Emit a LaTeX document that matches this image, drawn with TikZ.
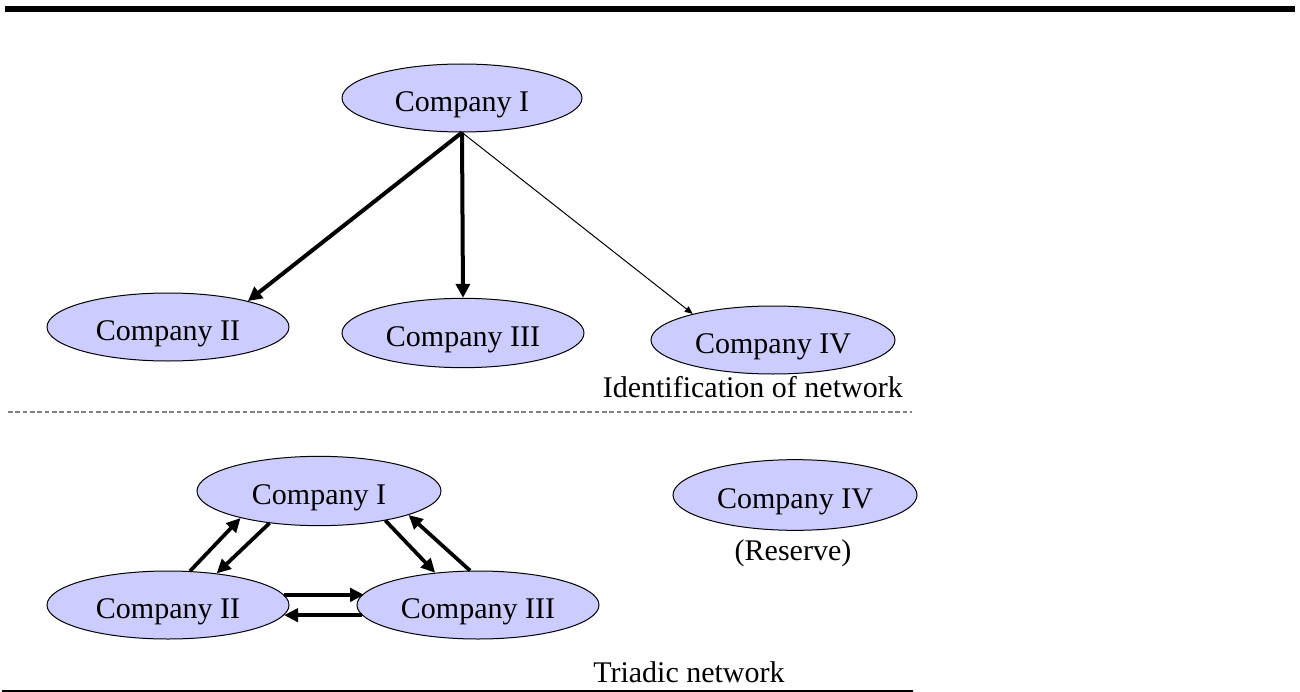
\documentclass[tikz,border=0pt]{standalone}
\usepackage{fontspec}
\setmainfont{Liberation Serif}
\usetikzlibrary{shapes.geometric,arrows.meta}
\definecolor{lav}{HTML}{CCCCFF}
\definecolor{dashgray}{HTML}{7F7F7F}
\begin{document}
\begin{tikzpicture}[x=0.75pt,y=-0.75pt,
  comp/.style={ellipse, draw=black, line width=0.75pt, fill=lav, minimum width=181.5pt, minimum height=51pt, inner sep=0pt, text height=20.5pt, text depth=0pt, font=\fontsize{22.5}{27}\selectfont},
  lbl/.style={inner sep=0pt, font=\fontsize{22.5}{27}\selectfont},
  bigarrow/.style={line width=3pt, -{Triangle[length=10.5pt,width=10.5pt]}},
  thinarrow/.style={line width=0.75pt, -{Triangle[length=6pt,width=5pt]}},
  triarrow/.style={line width=2.8pt, -{Triangle[length=10.5pt,width=10pt]}}
]
\useasboundingbox (0,0) rectangle (1300,692);
% rules
\draw[line width=4.5pt] (5,9) -- (1295,9);
\draw[dashgray, line width=0.9pt, dash pattern=on 3.5pt off 2pt] (8,412) -- (912,412);
\draw[line width=1.8pt] (2,691) -- (913,691);

% top network
\node[comp, minimum width=180pt] (tI) at (462,98) {Company I};
\node[comp] (tII) at (168,327) {Company II};
\node[comp, minimum height=52pt] (tIII) at (463,333) {Company III};
\node[comp, minimum width=183pt] (tIV) at (773,340) {Company IV};
\draw[bigarrow] (tI.south) -- (tII.18);
\draw[bigarrow] (tI.south) -- (tIII.north);
\draw[thinarrow] (tI.south) -- (tIV.162);
\node[lbl, anchor=base east] (lab1) at (903,397) {Identification of network};

% bottom network
\node[comp, minimum width=183pt, minimum height=52pt] (bI) at (319,491) {Company I};
\node[comp] (bII) at (168,605) {Company II};
\node[comp] (bIII) at (478,605) {Company III};
\node[comp, minimum width=183pt, minimum height=53pt] (bIV) at (795,495) {Company IV};
\node[lbl] (res) at (793,553) {(Reserve)};
\draw[triarrow] (bII.57) -- (bI.199);
\draw[triarrow] (bI.213) -- (bII.33);
\draw[triarrow] (bI.336) -- (bIII.143);
\draw[triarrow] (bIII.103) -- (bI.345);
\draw[triarrow] (bII.5.5) -- (bII.5.5 -| bIII.174.5);
\draw[triarrow] (bIII.185.5) -- (bIII.185.5 -| bII.355);
\node[lbl, anchor=base west] (lab2) at (593,682) {Triadic network};
\end{tikzpicture}
\end{document}
